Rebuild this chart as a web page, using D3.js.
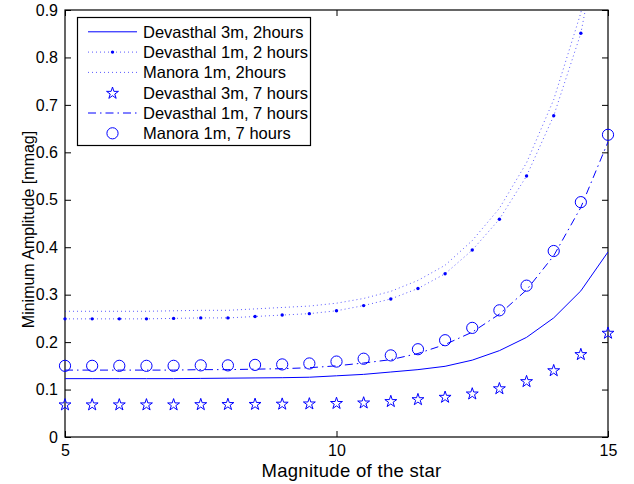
<!DOCTYPE html>
<html>
<head>
<meta charset="utf-8">
<script src="https://cdn.jsdelivr.net/npm/d3@7"></script>
<style>
  html, body { margin: 0; padding: 0; background: #fff; }
  svg { display: block; font-family: "Liberation Sans", Arial, Helvetica, sans-serif; }
</style>
</head>
<body>
<svg id="chart" width="634" height="484"></svg>
<script>
// Star magnitudes (x axis)
const magnitudes = [5, 5.5, 6, 6.5, 7, 7.5, 8, 8.5, 9, 9.5, 10, 10.5, 11, 11.5, 12, 12.5, 13, 13.5, 14, 14.5, 15];

// Minimum detectable amplitude [mmag] per telescope / observing time
const devasthal3m2h = [0.123, 0.123, 0.123, 0.123, 0.123, 0.1235, 0.124, 0.1245, 0.125, 0.126, 0.129, 0.132, 0.137, 0.142, 0.149, 0.162, 0.182, 0.210, 0.251, 0.308, 0.390];
const devasthal1m2h = [0.249, 0.249, 0.249, 0.249, 0.250, 0.251, 0.251, 0.254, 0.257, 0.260, 0.266, 0.277, 0.291, 0.313, 0.344, 0.394, 0.459, 0.550, 0.677, 0.851, 1.15];
const manora1m2h    = [0.265, 0.265, 0.265, 0.265, 0.266, 0.267, 0.267, 0.270, 0.273, 0.276, 0.282, 0.292, 0.307, 0.330, 0.362, 0.414, 0.482, 0.578, 0.711, 0.894, 1.21];
const devasthal3m7h = [0.069, 0.069, 0.069, 0.069, 0.069, 0.0695, 0.0698, 0.070, 0.0705, 0.071, 0.072, 0.073, 0.076, 0.080, 0.085, 0.092, 0.103, 0.118, 0.141, 0.175, 0.220];
const devasthal1m7h = [0.141, 0.141, 0.141, 0.141, 0.141, 0.142, 0.142, 0.143, 0.144, 0.146, 0.150, 0.156, 0.163, 0.176, 0.195, 0.221, 0.259, 0.310, 0.382, 0.484, 0.622];
const manora1m7h    = [0.150, 0.150, 0.150, 0.150, 0.150, 0.151, 0.151, 0.152, 0.153, 0.155, 0.159, 0.165, 0.172, 0.185, 0.204, 0.230, 0.267, 0.319, 0.392, 0.495, 0.637];

const seriesNames = [
  "Devasthal 3m, 2hours",
  "Devasthal 1m, 2 hours",
  "Manora 1m, 2hours",
  "Devasthal 3m, 7 hours",
  "Devasthal 1m, 7 hours",
  "Manora 1m, 7 hours"
];

const xTicks = [5, 10, 15];
const yTicks = [0, 0.1, 0.2, 0.3, 0.4, 0.5, 0.6, 0.7, 0.8, 0.9];
const xLabel = "Magnitude of the star";
const yLabel = "Minimum Amplitude [mmag]";

const BLUE = "#0000ff";
const plot = { left: 65, right: 608, top: 10, bottom: 437 };

const svg = d3.select("#chart");
const x = d3.scaleLinear().domain([5, 15]).range([plot.left, plot.right]);
const y = d3.scaleLinear().domain([0, 0.9]).range([plot.bottom, plot.top]);

// line style definitions
const styles = [
  { values: devasthal3m2h, line: "solid",   marker: null },
  { values: devasthal1m2h, line: "dotted",  marker: "dot" },
  { values: manora1m2h,    line: "dotted",  marker: null },
  { values: devasthal3m7h, line: null,      marker: "star" },
  { values: devasthal1m7h, line: "dashdot", marker: null },
  { values: manora1m7h,    line: null,      marker: "circle" }
];

function applyLine(sel, kind) {
  sel.attr("fill", "none").attr("stroke", BLUE).attr("stroke-width", 1);
  if (kind === "dotted") sel.attr("stroke-dasharray", "1,3").attr("stroke-opacity", 0.65);
  if (kind === "dashdot") sel.attr("stroke-dasharray", "8,4,1.5,4");
  return sel;
}

function drawMarker(g, kind, cx, cy) {
  if (kind === "dot") {
    g.append("circle").attr("cx", cx).attr("cy", cy).attr("r", 1.7).attr("fill", BLUE);
  } else if (kind === "circle") {
    g.append("circle").attr("cx", cx).attr("cy", cy).attr("r", 5.6)
      .attr("fill", "none").attr("stroke", BLUE).attr("stroke-width", 1);
  } else if (kind === "star") {
    g.append("path").attr("d", d3.symbol(d3.symbolStar, 44)())
      .attr("transform", `translate(${cx},${cy + 0.6})`)
      .attr("fill", "none").attr("stroke", BLUE).attr("stroke-width", 1);
  }
}

// clip region for the curves
svg.append("defs").append("clipPath").attr("id", "plotClip")
  .append("rect")
  .attr("x", plot.left).attr("y", plot.top)
  .attr("width", plot.right - plot.left).attr("height", plot.bottom - plot.top);

// axes box and ticks
const axes = svg.append("g");

const axisLeft = d3.axisLeft(y).tickValues(yTicks).tickSizeInner(-6).tickSizeOuter(0)
  .tickPadding(7).tickFormat(d => d3.format("~g")(d));
axes.append("g").attr("transform", `translate(${plot.left},0)`).call(axisLeft);

const axisBottom = d3.axisBottom(x).tickValues(xTicks).tickSizeInner(-6).tickSizeOuter(0)
  .tickPadding(8).tickFormat(d3.format("d"));
axes.append("g").attr("transform", `translate(0,${plot.bottom})`).call(axisBottom);

axes.append("g").attr("transform", `translate(${plot.right},0)`)
  .call(d3.axisRight(y).tickValues(yTicks).tickSizeInner(-6).tickSizeOuter(0).tickFormat(""));
axes.append("g").attr("transform", `translate(0,${plot.top})`)
  .call(d3.axisTop(x).tickValues(xTicks).tickSizeInner(-6).tickSizeOuter(0).tickFormat(""));

axes.selectAll(".domain").remove();
axes.selectAll(".tick line").attr("stroke", "#000");
axes.selectAll(".tick text")
  .attr("fill", "#000")
  .style("font-family", "'Liberation Sans', Arial, Helvetica, sans-serif")
  .style("font-size", "16px");

svg.append("rect")
  .attr("x", plot.left).attr("y", plot.top)
  .attr("width", plot.right - plot.left).attr("height", plot.bottom - plot.top)
  .attr("fill", "none").attr("stroke", "#000").attr("stroke-width", 1.2);

// curves
const lineGen = d3.line().x((d, i) => x(magnitudes[i])).y(d => y(d));
const curves = svg.append("g").attr("clip-path", "url(#plotClip)");
styles.forEach(s => {
  if (s.line) applyLine(curves.append("path").attr("d", lineGen(s.values)), s.line);
});

// markers (only those inside the y range)
const markers = svg.append("g");
styles.forEach(s => {
  if (!s.marker) return;
  s.values.forEach((v, i) => {
    if (v <= 0.9) drawMarker(markers, s.marker, x(magnitudes[i]), y(v));
  });
});

// axis titles
svg.append("text").attr("x", (plot.left + plot.right) / 2 + 15).attr("y", 477)
  .attr("text-anchor", "middle").attr("font-size", 18.5).attr("letter-spacing", 0.3).text(xLabel);
svg.append("text").attr("transform", `translate(34,${(plot.top + plot.bottom) / 2 + 6}) rotate(-90)`)
  .attr("text-anchor", "middle").attr("font-size", 16).text(yLabel);

// legend
const legend = svg.append("g");
legend.append("rect").attr("x", 77.5).attr("y", 17.5).attr("width", 233).attr("height", 128)
  .attr("fill", "#fff").attr("stroke", "#000").attr("stroke-width", 1.2);
const rowY = d3.scaleLinear().domain([0, 5]).range([31.8, 133.3]);
styles.forEach((s, i) => {
  const cy = rowY(i);
  if (s.line) applyLine(legend.append("line").attr("x1", 88).attr("x2", 137).attr("y1", cy).attr("y2", cy), s.line);
  if (s.marker) drawMarker(legend, s.marker, 112.5, cy);
  legend.append("text").attr("x", 143).attr("y", cy + 6).attr("font-size", 16.5).text(seriesNames[i]);
});
</script>
</body>
</html>
